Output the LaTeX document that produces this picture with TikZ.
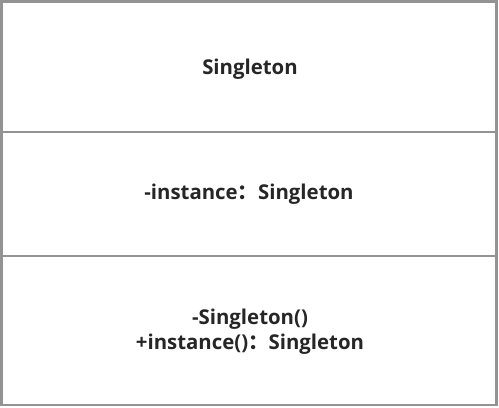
\documentclass[tikz,border=0pt]{standalone}
\usepackage{fontspec}
\setmainfont{Open Sans}
\newfontfamily\cjk{Noto Sans CJK SC}
\usepackage{tikz}

\begin{document}
\begin{tikzpicture}[x=0.02cm,y=-0.02cm,
    member/.style={font=\fontsize{11.6}{14.2}\selectfont\bfseries,text=black!85,align=center}]
  \useasboundingbox (0,0) rectangle (499,407);
  \coordinate (TL) at (1.5,1.5);
  \coordinate (BR) at (496.5,405);
  \coordinate (L1) at (1.5,132);
  \coordinate (R1) at (496.5,132);
  \coordinate (L2) at (1.5,256);
  \coordinate (R2) at (496.5,256);
  \draw[line width=1.2pt,gray!85] (TL) rectangle (BR);
  \draw[line width=1.2pt,gray!85] (L1)--(R1);
  \draw[line width=1.2pt,gray!85] (L2)--(R2);
  \node[member] (name) at (250,69) {Singleton};
  \node[member] (attr) at (249,194) {-instance{\cjk ：}Singleton};
  \node[member] (ops) at (250,332)
    {-Singleton()\\+instance(){\cjk ：}Singleton};
\end{tikzpicture}
\end{document}
